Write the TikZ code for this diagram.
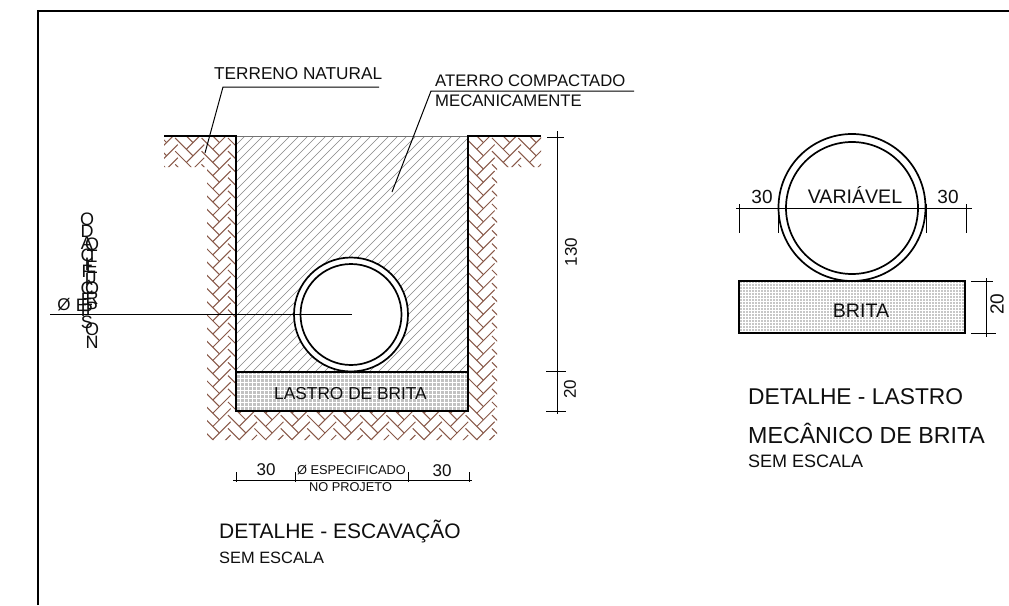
\documentclass[tikz,border=0pt]{standalone}
\usepackage{fontspec}
\setmainfont{Liberation Sans}
\definecolor{soil}{RGB}{136,88,72}
\definecolor{inkk}{RGB}{15,15,15}
\newcommand{\fsz}[1]{\fontsize{#1}{#1}\selectfont}
\tikzset{
  lbl/.style={inner sep=0pt,text=inkk,font=\fsz{#1}},
  lbl/.default=17,
  lft/.style={lbl=#1,anchor=west},
  rot/.style={lbl=#1,rotate=90},
  frameline/.style={line width=1.5pt,black},
  wall/.style={line width=1.7pt,black},
  thin/.style={line width=1pt,black},
  dimline/.style={line width=1pt,black},
  brick/.style={line width=1pt,soil},
  hatchline/.style={line width=0.65pt,black!48},
  pipe/.style={line width=1.7pt,black,fill=white},
}
\begin{document}
\begin{tikzpicture}[x=1pt,y=-1pt]
\useasboundingbox (0,0) rectangle (1009,605);
\fill[white] (0,0) rectangle (1009,605);
% frame
\draw[frameline] (38,605) -- (38,11) -- (1009,11);
% soil (herringbone, AR-HBONE lattice)
\begin{scope}
  \clip (164,136) -- (236,136) -- (236,411) -- (468,411) -- (468,136) -- (541,136) -- (541,167) -- (497,167) -- (497,440) -- (207,440) -- (207,167) -- (164,167) -- cycle;
  \def\ss{6.6}
  \def\ox{160}
  \def\oy{136}
  \foreach \n in {-1,...,16}{
    \foreach \k in {-62,...,6}{
      \pgfmathsetmacro\xa{\ox+(4*\n)*\ss}
      \pgfmathsetmacro\ya{\oy-(2*\k+4*\n)*\ss}
      \ifdim\ya pt>110pt \ifdim\ya pt<470pt
        \draw[brick] (\xa,\ya) -- ++(2.7*\ss,-2.7*\ss);
      \fi\fi
    }
  }
  \foreach \n in {-16,...,1}{
    \foreach \c in {-32,...,36}{
      \pgfmathsetmacro\xc{\ox+(1-4*\n)*\ss}
      \pgfmathsetmacro\yc{\oy-(2*\c-1+4*\n)*\ss}
      \ifdim\yc pt>110pt \ifdim\yc pt<470pt
        \draw[brick] (\xc,\yc) -- ++(-2.7*\ss,-2.7*\ss);
      \fi\fi
    }
  }
\end{scope}
% backfill hatch
\begin{scope}
  \clip (236,136) rectangle (468,372);
  \foreach \a in {0,9,...,470}{\draw[hatchline] (\a,372) -- ++(240,-240);}
\end{scope}
\draw[line width=0.9pt,black!55] (236,136) -- (468,136);
% gravel bed
\fill[black!24] (236,372) rectangle (468,411);
\begin{scope}
  \clip (236,372) rectangle (468,411);
  \foreach \gx in {236,240,...,468}{\draw[line width=0.7pt,white] (\gx,372) -- (\gx,411);}
  \foreach \gy in {374,378,...,410}{\draw[line width=0.7pt,white] (236,\gy) -- (468,\gy);}
\end{scope}
% trench walls
\draw[wall] (164,136) -- (236,136) -- (236,411) -- (468,411) -- (468,136) -- (541,136);
\draw[wall] (236,372) -- (468,372);
% pipe in trench
\node[circle,draw,pipe,minimum size=114pt,inner sep=0pt] (pipeout) at (351,314.5) {};
\node[circle,draw,pipe,minimum size=101pt,inner sep=0pt] (pipein) at (351,314.5) {};
% centre line
\coordinate (cl) at (50,314.5);
\coordinate (cc) at (352,314.5);
\draw[thin] (cl) -- (cc);
% leaders
\coordinate (t1) at (205,153); \coordinate (t2) at (223,87); \coordinate (t3) at (379,87);
\draw[thin] (t1) -- (t2) -- (t3);
\node[lft=17.2] (tn) at (214,74) {TERRENO NATURAL};
\coordinate (a1) at (392,192); \coordinate (a2) at (431,91); \coordinate (a3) at (634,91);
\draw[thin] (a1) -- (a2) -- (a3);
\node[lft=16.7] (ac) at (435,81) {ATERRO COMPACTADO};
\node[lft=16.7] (me) at (435,101) {MECANICAMENTE};
\node[lbl=17.3] (lb) at (350.5,394) {LASTRO DE BRITA};
% vertical dimension of trench
\coordinate (d1) at (557,131); \coordinate (d2) at (557,414);
\draw[dimline] (d1) -- (d2);
\draw[dimline] (547,137) -- (564,137) (546,371) -- (566,371) (546,411) -- (566,411);
\node[rot=17] (d130) at (571,252) {130};
\node[rot=17] (d20) at (570,389) {20};
% bottom dimension
\coordinate (b1) at (233,480); \coordinate (b2) at (472,480);
\draw[dimline] (b1) -- (b2);
\draw[line width=0.9pt,black] (236,472) -- (236,482) (295,472) -- (295,482) (408,472) -- (408,482) (469,472) -- (469,482);
\node[lbl=17] (b30a) at (266,470) {30};
\node[lbl=17] (b30b) at (442,471) {30};
\node[lbl=12.8] (bes) at (351.5,470.5) {Ø ESPECIFICADO};
\node[lbl=12.8] (bno) at (350.5,487) {NO PROJETO};
\node[lft=21] (de) at (219,531) {DETALHE - ESCAVAÇÃO};
\node[lft=16.4] (s1) at (219,558) {SEM ESCALA};
% stacked letters
\node[lbl=17] (oslash) at (64,305) {Ø};
\node[lbl=18] (e0) at (82,305) {E};
\foreach \ch/\yy [count=\i] in {O/219,D/231,A/243,C/255,I/264,F/271,I/279,C/288,E/299,P/310,S/322}{
  \node[lbl=18] (ca\i) at (87,\yy) {\ch};
}
\foreach \ch/\yy [count=\i] in {O/244,T/256,E/267,J/277,O/288,R/298,P/308,O/329,N/342}{
  \node[lbl=18] (cb\i) at (92,\yy) {\ch};
}
% right detail
\node[circle,draw,pipe,minimum size=147pt,inner sep=0pt] (rout) at (852,207.5) {};
\node[circle,draw,pipe,minimum size=132pt,inner sep=0pt] (rin) at (852,208) {};
\coordinate (r1) at (736,208); \coordinate (r2) at (972,208);
\draw[dimline] (r1) -- (r2);
\draw[thin] (739,204) -- (739,233) (778,204) -- (778,233) (926,204) -- (926,233) (966,204) -- (966,233);
\node[lbl=19] (r30a) at (762,197) {30};
\node[lbl=19] (r30b) at (948,197) {30};
\node[lbl=19.6] (rv) at (855,195) {VARIÁVEL};
\fill[black!22] (739,281) rectangle (965,333);
\begin{scope}
  \clip (739,281) rectangle (965,333);
  \foreach \gx in {739,742,...,965}{\draw[line width=0.45pt,white] (\gx,281) -- (\gx,333);}
  \foreach \gy in {283,286,...,333}{\draw[line width=0.45pt,white] (739,\gy) -- (965,\gy);}
\end{scope}
\draw[wall,line width=1.5pt] (739,281) rectangle (965,333);
\node[lbl=19.6] (rb) at (861,311) {BRITA};
\coordinate (rd1) at (986,278); \coordinate (rd2) at (986,337);
\draw[dimline] (rd1) -- (rd2);
\draw[dimline] (971,281) -- (993,281) (971,333) -- (996,333);
\node[rot=19] (r20) at (997,304) {20};
\node[lft=22.8] (dl) at (748,397) {DETALHE - LASTRO};
\node[lft=23.2] (mb) at (748,433) {MECÂNICO DE BRITA};
\node[lft=18] (s2) at (748,461) {SEM ESCALA};
\end{tikzpicture}
\end{document}
